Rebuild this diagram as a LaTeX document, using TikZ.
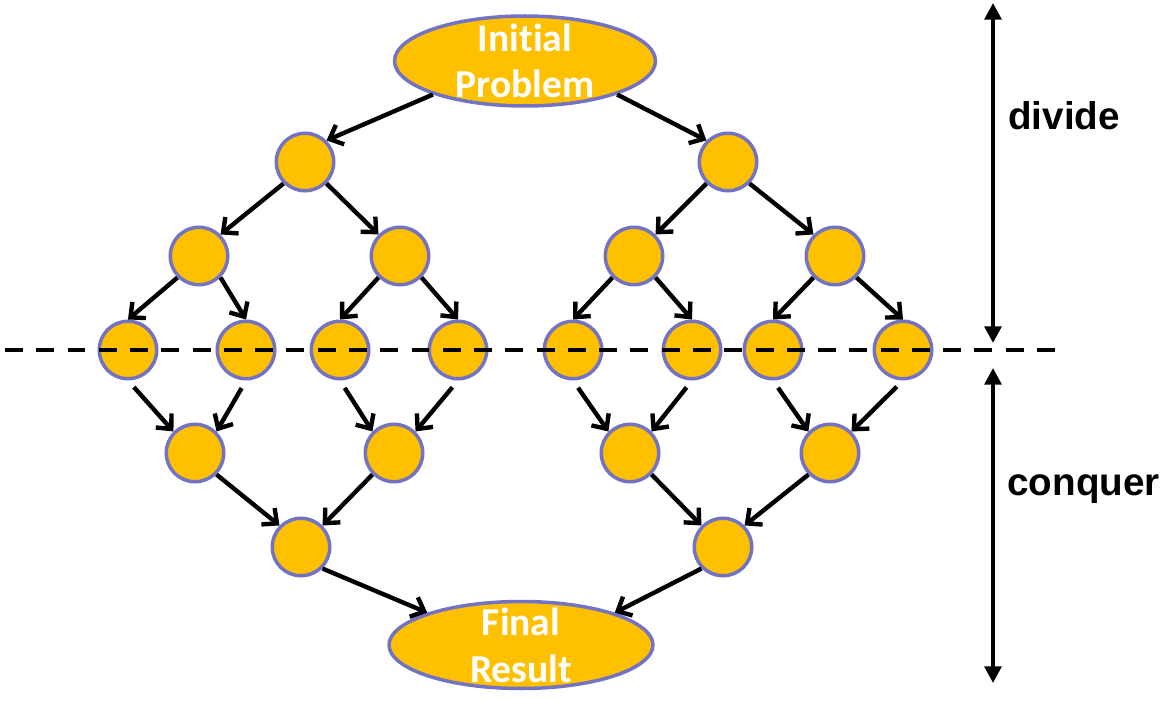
\documentclass[tikz,border=0pt]{standalone}
\usepackage{fontspec}
\usepackage{tikz}
\usetikzlibrary{arrows.meta,shapes.geometric}
\setmainfont{Liberation Sans}
\newfontfamily\calibrifont[Ligatures=NoCommon]{Carlito}
\definecolor{subfill}{RGB}{255,192,0}
\definecolor{subline}{RGB}{115,115,195}

\begin{document}
\begin{tikzpicture}[x=0.02cm, y=-0.02cm,
	sub/.style={circle, fill=subfill, draw=subline, line width=2pt, minimum size=1.15cm, inner sep=0pt},
	big/.style={ellipse, fill=subfill, draw=subline, line width=2pt, inner sep=0pt},
	bigtext/.style={text=white, font=\calibrifont\bfseries\fontsize{22.5}{26.5}\selectfont, align=center},
	phasetext/.style={font=\bfseries\fontsize{22}{26}\selectfont, inner sep=0pt, anchor=base west},
	link/.style={-{Straight Barb[length=6.5pt,width=12pt]}, line width=2.5pt},
	phase/.style={{Triangle[length=9.5pt,width=9.5pt]}-{Triangle[length=9.5pt,width=9.5pt]}, line width=2.3pt}]
			\useasboundingbox (0,0) rectangle (1166,702);
			\node[big, minimum width=5.22cm, minimum height=1.8cm, label={[name=inittext, bigtext]center:{Initial\\Problem}}] (init) at (525,61) {};
			\node[sub] (s1) at (305,162) {};
			\node[sub] (s2) at (728,162) {};
			\node[sub] (s11) at (199,256) {};
			\node[sub] (s12) at (400,256) {};
			\node[sub] (s21) at (634,256) {};
			\node[sub] (s22) at (835,256) {};
			\node[sub] (s111) at (128,350) {};
			\node[sub] (s112) at (246,350) {};
			\node[sub] (s121) at (340,350) {};
			\node[sub] (s122) at (458,350) {};
			\node[sub] (s211) at (573,350) {};
			\node[sub] (s212) at (692,350) {};
			\node[sub] (s221) at (773,350) {};
			\node[sub] (s222) at (903,350) {};
			\node[sub] (m1) at (195,453) {};
			\node[sub] (m2) at (394,453) {};
			\node[sub] (m3) at (630,453) {};
			\node[sub] (m4) at (830,453) {};
			\node[sub] (r1) at (301,547) {};
			\node[sub] (r2) at (723,547) {};
			\node[big, minimum width=5.28cm, minimum height=1.74cm, label={[name=restext, bigtext]center:{Final\\Result}}] (res) at (521,645) {};
			\draw[link] (init.200) -- (s1.45);
			\draw[link] (init.340) -- (s2.135);
			\draw[link] (s1.225) -- (s11.45);
			\draw[link] (s1.315) -- (s12.135);
			\draw[link] (s2.225) -- (s21.45);
			\draw[link] (s2.315) -- (s22.135);
			\draw[link] (s11.225) -- (s111.north);
			\draw[link] (s11.315) -- (s112.north);
			\draw[link] (s12.225) -- (s121.north);
			\draw[link] (s12.315) -- (s122.north);
			\draw[link] (s21.225) -- (s211.north);
			\draw[link] (s21.315) -- (s212.north);
			\draw[link] (s22.225) -- (s221.north);
			\draw[link] (s22.315) -- (s222.north);
			\draw[link, shorten <=5pt] (s111.south) -- (m1.135);
			\draw[link, shorten <=5pt] (s112.south) -- (m1.45);
			\draw[link, shorten <=5pt] (s121.south) -- (m2.135);
			\draw[link, shorten <=5pt] (s122.south) -- (m2.45);
			\draw[link, shorten <=5pt] (s211.south) -- (m3.135);
			\draw[link, shorten <=5pt] (s212.south) -- (m3.45);
			\draw[link, shorten <=5pt] (s221.south) -- (m4.135);
			\draw[link, shorten <=5pt] (s222.south) -- (m4.45);
			\draw[link] (m1.315) -- (r1.135);
			\draw[link] (m2.225) -- (r1.45);
			\draw[link] (m3.315) -- (r2.135);
			\draw[link] (m4.225) -- (r2.45);
			\draw[link] (r1.315) -- (res.161);
			\draw[link] (r2.225) -- (res.19);
			\coordinate (cutl) at (5,350);
			\coordinate (cutr) at (1055,350);
			\draw[line width=2.2pt, dash pattern=on 10.2pt off 7.6pt] (cutl) -- (cutr);
			\coordinate (dtop) at (993,3);
			\coordinate (dbot) at (993,343);
			\coordinate (ctop) at (993,368);
			\coordinate (cbot) at (993,683);
			\draw[phase] (dtop) -- (dbot);
			\draw[phase] (ctop) -- (cbot);
			\node[phasetext] (divtext) at (1008,130) {divide};
			\node[phasetext] (context) at (1007,495) {conquer};
		\end{tikzpicture}
\end{document}
